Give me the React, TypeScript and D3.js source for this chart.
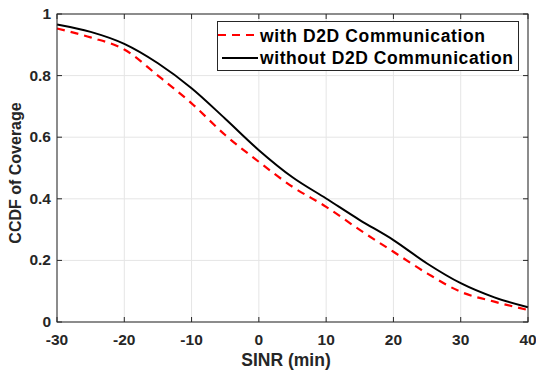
import * as d3 from "d3"

const sinr = [-30, -25, -20, -15, -10, -5, 0, 5, 10, 15, 20, 25, 30, 35, 40]
const withD2D = [0.953, 0.924, 0.885, 0.8, 0.71, 0.607, 0.52, 0.439, 0.374, 0.299, 0.228, 0.158, 0.098, 0.066, 0.039]
const withoutD2D = [0.966, 0.942, 0.903, 0.84, 0.759, 0.66, 0.558, 0.47, 0.401, 0.331, 0.266, 0.19, 0.126, 0.08, 0.048]
const xTicks = [-30, -20, -10, 0, 10, 20, 30, 40]
const yTicks = [0, 0.2, 0.4, 0.6, 0.8, 1]
const seriesNames = ["with D2D Communication", "without D2D Communication"]

const W = 536
const H = 375
const margin = { top: 14, right: 8, bottom: 53, left: 57 }
const font = "'Liberation Sans', Arial, sans-serif"
const axisColor = "#262626"

export default function App() {
  const x = d3.scaleLinear().domain([-30, 40]).range([margin.left, W - margin.right])
  const y = d3.scaleLinear().domain([0, 1]).range([H - margin.bottom, margin.top])

  const line = d3
    .line<number>()
    .x((_, i) => x(sinr[i]))
    .y((d) => y(d))
    .curve(d3.curveMonotoneX)

  const [x0, x1] = x.range()
  const [y0, y1] = y.range()
  const tick = 5

  return (
    <svg width={W} height={H} style={{ position: "absolute", left: 0, top: 0, background: "#fff" }}>
      {/* grid */}
      {xTicks.map((t) => (
        <line key={"gx" + t} x1={x(t)} x2={x(t)} y1={y0} y2={y1} stroke="#e5e5e5" strokeWidth={1} />
      ))}
      {yTicks.map((t) => (
        <line key={"gy" + t} x1={x0} x2={x1} y1={y(t)} y2={y(t)} stroke="#e5e5e5" strokeWidth={1} />
      ))}

      {/* curves */}
      <path d={line(withD2D) ?? ""} fill="none" stroke="#ff0000" strokeWidth={2.2} strokeDasharray="8,6" />
      <path d={line(withoutD2D) ?? ""} fill="none" stroke="#000" strokeWidth={2} />

      {/* box + ticks */}
      <rect x={x0} y={y1} width={x1 - x0} height={y0 - y1} fill="none" stroke={axisColor} strokeWidth={1} />
      {xTicks.map((t) => (
        <g key={"tx" + t}>
          <line x1={x(t)} x2={x(t)} y1={y0} y2={y0 - tick} stroke={axisColor} />
          <line x1={x(t)} x2={x(t)} y1={y1} y2={y1 + tick} stroke={axisColor} />
          <text x={x(t)} y={y0 + 23} textAnchor="middle" fontFamily={font} fontWeight="bold" fontSize={15.5} fill={axisColor}>
            {t}
          </text>
        </g>
      ))}
      {yTicks.map((t) => (
        <g key={"ty" + t}>
          <line x1={x0} x2={x0 + tick} y1={y(t)} y2={y(t)} stroke={axisColor} />
          <line x1={x1} x2={x1 - tick} y1={y(t)} y2={y(t)} stroke={axisColor} />
          <text x={x0 - 6} y={y(t) + 5} textAnchor="end" fontFamily={font} fontWeight="bold" fontSize={15.5} fill={axisColor}>
            {t}
          </text>
        </g>
      ))}

      {/* axis labels */}
      <text x={286} y={366} textAnchor="middle" fontFamily={font} fontWeight="bold" fontSize={17.5} fill={axisColor}>
        SINR (min)
      </text>
      <text
        transform={`translate(21,173) rotate(-90)`}
        textAnchor="middle"
        fontFamily={font}
        fontWeight="bold"
        fontSize={16}
        fill={axisColor}
      >
        CCDF of Coverage
      </text>

      {/* legend */}
      <g>
        <rect x={217.5} y={21.5} width={301} height={49} fill="#fff" stroke={axisColor} strokeWidth={1} />
        <line x1={218} x2={258} y1={35} y2={35} stroke="#ff0000" strokeWidth={2.2} strokeDasharray="8,6" />
        <line x1={222} x2={258} y1={58} y2={58} stroke="#000" strokeWidth={2} />
        <text x={260} y={42} fontFamily={font} fontWeight="bold" fontSize={17.5} fill="#000" textLength={225} lengthAdjust="spacing">
          {seriesNames[0]}
        </text>
        <text x={260} y={64} fontFamily={font} fontWeight="bold" fontSize={17.5} fill="#000" textLength={253} lengthAdjust="spacing">
          {seriesNames[1]}
        </text>
      </g>
    </svg>
  )
}
